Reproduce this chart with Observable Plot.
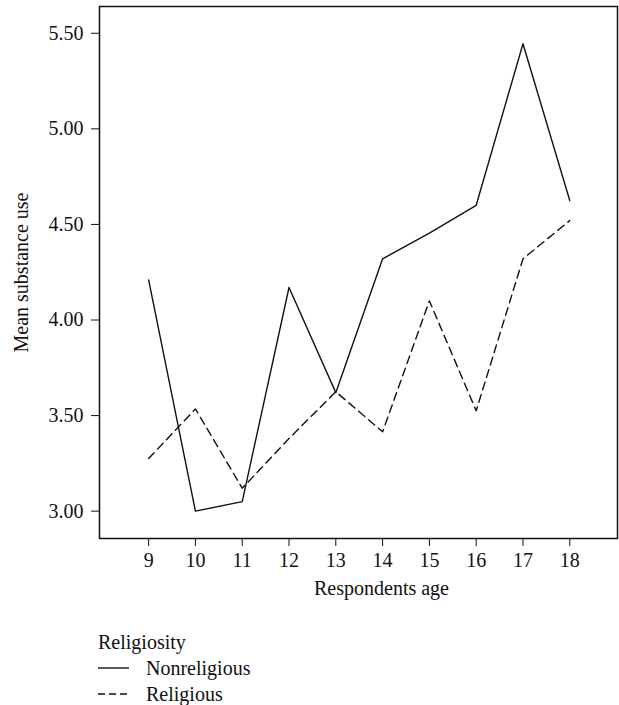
<!DOCTYPE html>
<html>
<head>
<meta charset="utf-8">
<script src="https://cdn.jsdelivr.net/npm/d3@7"></script>
<script src="https://cdn.jsdelivr.net/npm/@observablehq/plot@0.6"></script>
<style>
  html, body { margin: 0; padding: 0; background: #fff; }
  #wrap { position: relative; width: 619px; height: 705px; font-family: "Liberation Serif", serif; color: #111; }
  #legend { position: absolute; left: 98px; top: 629px; font-size: 20px; line-height: 26px; }
  #legend .row { display: flex; align-items: center; height: 26px; }
  #legend svg { margin-right: 14px; }
</style>
</head>
<body>
<div id="wrap">
  <div id="chart"></div>
  <div id="legend"></div>
</div>
<script>
const ages = [9, 10, 11, 12, 13, 14, 15, 16, 17, 18];
const nonreligious = [4.21, 3.00, 3.05, 4.17, 3.62, 4.32, 4.455, 4.60, 5.445, 4.625];
const religious = [3.275, 3.535, 3.12, 3.38, 3.625, 3.415, 4.10, 3.525, 4.32, 4.52];
const yTicks = [3.0, 3.5, 4.0, 4.5, 5.0, 5.5];
const seriesNames = ["Nonreligious", "Religious"];
const legendTitle = "Religiosity";
const xTitle = "Respondents age";
const yTitle = "Mean substance use";

const rows = [
  ...ages.map((a, i) => ({age: a, value: nonreligious[i], group: seriesNames[0]})),
  ...ages.map((a, i) => ({age: a, value: religious[i], group: seriesNames[1]}))
];

const chart = Plot.plot({
  width: 619,
  height: 610,
  marginLeft: 99,
  marginTop: 6,
  marginRight: 2,
  marginBottom: 72,
  style: {fontFamily: "Liberation Serif", fontSize: "20px", color: "#111", background: "white"},
  x: {domain: [7.95, 19.02]},
  y: {domain: [2.857, 5.64]},
  marks: [
    Plot.axisX({ticks: ages, tickFormat: d => String(d), tickSize: 8, tickPadding: 6, label: null, stroke: "#111"}),
    Plot.axisY({ticks: yTicks, tickFormat: d3.format(".2f"), tickSize: 8, tickPadding: 8, label: null, stroke: "#111"}),
    Plot.line(rows.filter(d => d.group === seriesNames[0]), {x: "age", y: "value", stroke: "#111", strokeWidth: 1.4}),
    Plot.line(rows.filter(d => d.group === seriesNames[1]), {x: "age", y: "value", stroke: "#111", strokeWidth: 1.4, strokeDasharray: "8,5"}),
    Plot.frame({stroke: "#111", strokeWidth: 1.5}),
    Plot.text([xTitle], {text: d => d, frameAnchor: "bottom", dx: 23, dy: 50, lineAnchor: "middle", fill: "#111"}),
    Plot.text([yTitle], {text: d => d, frameAnchor: "left", textAnchor: "middle", rotate: -90, dx: -78, lineAnchor: "middle", fill: "#111"})
  ]
});
document.getElementById("chart").appendChild(chart);

const legend = document.getElementById("legend");
const t = document.createElement("div");
t.textContent = legendTitle;
legend.appendChild(t);
seriesNames.forEach((name, i) => {
  const row = document.createElement("div");
  row.className = "row";
  const dash = i === 1 ? 'stroke-dasharray="7,4"' : '';
  row.innerHTML = `<svg width="34" height="10"><line x1="0" x2="31" y1="5" y2="5" stroke="#111" stroke-width="1.4" ${dash}/></svg><span>${name}</span>`;
  legend.appendChild(row);
});
</script>
</body>
</html>
